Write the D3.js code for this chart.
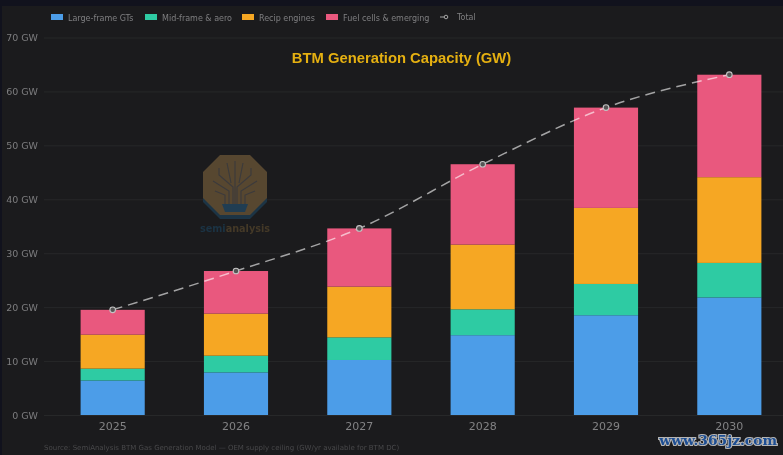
<!DOCTYPE html>
<html lang="en">
<head>
<meta charset="UTF-8"/>
<title>BTM Generation Capacity (GW)</title>
<script src="https://d3js.org/d3.v7.min.js"></script>
<style>
	html, body { margin:0; padding:0; background:#11121d; overflow:hidden; }
	svg { display:block; filter:blur(0.35px); }
	text { font-family:"DejaVu Sans", sans-serif; }
</style>
</head>
<body>
<script>
	var w = 783;
	var h = 455;

	// values
	var years = ["2025","2026","2027","2028","2029","2030"];
	var largeFrame = [6.4,7.9,10.2,14.8,18.5,21.8];
	var midFrame = [2.2,3.1,4.2,4.8,5.8,6.4];
	var recip = [6.3,7.8,9.4,12.0,14.1,15.9];
	var fuelCells = [4.6,7.9,10.8,14.9,18.6,19.0];
	var total = [19.5,26.7,34.6,46.5,57.0,63.1];
	var yTicks = [0,10,20,30,40,50,60,70];

	var seriesNames = ["Large-frame GTs","Mid-frame & aero","Recip engines","Fuel cells & emerging"];
	var seriesColors = ["#4c9de8","#2ecba3","#f6a723","#e9587e"];
	var seriesValues = [largeFrame,midFrame,recip,fuelCells];

	var xScale = d3.scaleBand()
		.domain(years)
		.range([51,791])
		.paddingInner(0.48)
		.paddingOuter(0.24);

	var yScale = d3.scaleLinear()
		.domain([0,70])
		.range([415,37.5]);

	var svg = d3.select("body").append("svg")
		.attr("width",w)
		.attr("height",h);

	// page + plot background
	svg.append("rect")
		.attr("x",2).attr("y",6)
		.attr("width",w-2).attr("height",h-6)
		.attr("fill","#1b1b1d");

	//------------grid + y axis-------------
	var yAxis = d3.axisLeft(yScale)
		.tickValues(yTicks)
		.tickSize(-(w-44))
		.tickFormat(function(d){ return d+" GW"; });

	var yG = svg.append("g")
		.attr("transform","translate(44,0)")
		.call(yAxis);
	yG.select(".domain").remove();
	yG.selectAll("line").attr("stroke","#272829").attr("stroke-width",1);
	yG.selectAll("text")
		.attr("x",-6)
		.attr("fill","#7d7d7f")
		.style("font-size","9.5px");

	//------------watermark logo-------------
	var logo = svg.append("g").attr("transform","translate(235,185)");
	var octagon = "M-15,-30 L15,-30 L32,-13 L32,13 L15,30 L-15,30 L-32,13 L-32,-13 Z";
	logo.append("path").attr("d",octagon)
		.attr("transform","translate(0,4)")
		.attr("fill","#1c3445");
	logo.append("path").attr("d",octagon).attr("fill","#574730");
	var branches = [
		"M-2,20 L-2,2 L-16,-10 L-16,-17",
		"M2,20 L2,2 L16,-10 L16,-17",
		"M-6,20 L-6,6 L-22,-4",
		"M6,20 L6,6 L22,-4",
		"M-10,20 L-10,10 L-20,6",
		"M10,20 L10,10 L20,6",
		"M0,20 L0,-24",
		"M-4,-2 L-8,-22",
		"M4,-2 L8,-22"
	];
	logo.selectAll("path.branch")
		.data(branches)
		.enter()
		.append("path")
		.attr("class","branch")
		.attr("d",function(d){ return d; })
		.attr("fill","none")
		.attr("stroke","#3b3a3c")
		.attr("stroke-width",1.1);
	logo.append("path")
		.attr("d","M-13,19 L13,19 L10,27 L-10,27 Z")
		.attr("fill","#203d52");
	var logoText = svg.append("text")
		.attr("x",235).attr("y",232)
		.attr("text-anchor","middle")
		.style("font-size","9.7px")
		.style("font-weight","bold");
	logoText.append("tspan").attr("fill","#1b3344").text("semi");
	logoText.append("tspan").attr("fill","#443927").text("analysis");

	//------------stacked bars-------------
	var stackData = years.map(function(y,i){
		var row = {year:y};
		seriesNames.forEach(function(n,k){ row[n] = seriesValues[k][i]; });
		return row;
	});
	var stacked = d3.stack().keys(seriesNames)(stackData);

	svg.selectAll("g.layer")
		.data(stacked)
		.enter()
		.append("g")
		.attr("class","layer")
		.each(function(layer,k){
			d3.select(this).selectAll("rect")
				.data(layer)
				.enter()
				.append("rect")
				.attr("x",function(d){ return xScale(d.data.year); })
				.attr("y",function(d){ return yScale(d[1]); })
				.attr("width",xScale.bandwidth())
				.attr("height",function(d){ return yScale(d[0])-yScale(d[1]); })
				.attr("fill",seriesColors[k]);
		});

	//------------total line-------------
	var line = d3.line()
		.x(function(d,i){ return xScale(years[i])+xScale.bandwidth()/2; })
		.y(function(d){ return yScale(d); })
		.curve(d3.curveMonotoneX);

	svg.append("path")
		.datum(total)
		.attr("d",line)
		.attr("fill","none")
		.attr("stroke","#ffffff")
		.attr("stroke-opacity",0.6)
		.attr("stroke-width",1.5)
		.attr("stroke-dasharray","10 6");

	svg.selectAll("circle.total")
		.data(total)
		.enter()
		.append("circle")
		.attr("class","total")
		.attr("cx",function(d,i){ return xScale(years[i])+xScale.bandwidth()/2; })
		.attr("cy",function(d){ return yScale(d); })
		.attr("r",2.8)
		.attr("fill","#555")
		.attr("stroke","#c4c4c4")
		.attr("stroke-width",1.1);

	//------------x axis-------------
	var xAxis = d3.axisBottom(xScale).tickSize(0).tickPadding(7);
	var xG = svg.append("g")
		.attr("transform","translate(0,415)")
		.call(xAxis);
	xG.select(".domain").remove();
	xG.selectAll("text")
		.attr("fill","#828284")
		.style("font-size","11px");

	//------------legend-------------
	var legendX = [51,145,242,326];
	var legend = svg.selectAll("g.legend")
		.data(seriesNames)
		.enter()
		.append("g")
		.attr("class","legend")
		.attr("transform",function(d,i){ return "translate("+legendX[i]+",14)"; });
	legend.append("rect")
		.attr("width",12).attr("height",6)
		.attr("fill",function(d,i){ return seriesColors[i]; });
	legend.append("text")
		.attr("x",17).attr("y",6.5)
		.attr("fill","#7f7f81")
		.style("font-size","8px")
		.text(function(d){ return d; });

	var totalKey = svg.append("g").attr("transform","translate(440,17)");
	totalKey.append("line")
		.attr("x1",0).attr("x2",8)
		.attr("stroke","#a5a5a5").attr("stroke-width",1);
	totalKey.append("circle")
		.attr("cx",6).attr("r",1.8)
		.attr("fill","#1b1b1d").attr("stroke","#a5a5a5");
	totalKey.append("text")
		.attr("x",17).attr("y",3.3)
		.attr("fill","#7f7f81")
		.style("font-size","8px")
		.text("Total");

	//------------title + source-------------
	svg.append("text")
		.attr("x",401.5).attr("y",62.5)
		.attr("text-anchor","middle")
		.attr("fill","#e5b011")
		.style("font-family","'Liberation Sans', Arial, sans-serif")
		.style("font-weight","bold")
		.style("font-size","14.8px")
		.text("BTM Generation Capacity (GW)");

	svg.append("text")
		.attr("x",44).attr("y",450)
		.attr("fill","#48484a")
		.style("font-size","7px")
		.text("Source: SemiAnalysis BTM Gas Generation Model \u2014 OEM supply ceiling (GW/yr available for BTM DC)");

	// site stamp, bottom right of the picture
	svg.append("text")
		.attr("x",777).attr("y",445)
		.attr("text-anchor","end")
		.attr("fill","#1d4e93")
		.attr("stroke","#b5b5b5")
		.attr("stroke-width",2.2)
		.attr("paint-order","stroke")
		.style("font-family","'DejaVu Serif', serif")
		.style("font-weight","bold")
		.style("font-size","13.8px")
		.text("www.365jz.com");
</script>
</body>
</html>
